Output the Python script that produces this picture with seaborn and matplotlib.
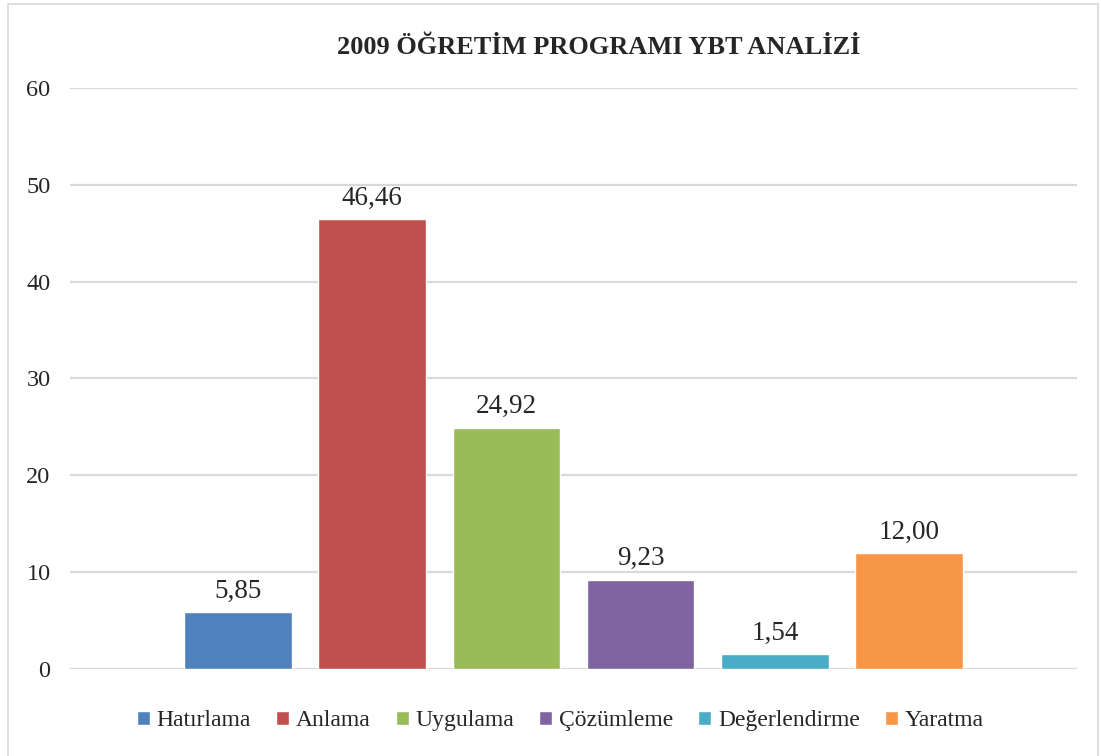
import matplotlib
matplotlib.use("Agg")
import matplotlib.pyplot as plt
import seaborn as sns
import pandas as pd
from matplotlib.patches import Rectangle

# Data
categories = ["Hatırlama", "Anlama", "Uygulama", "Çözümleme", "Değerlendirme", "Yaratma"]
values = [5.85, 46.46, 24.92, 9.23, 1.54, 12.00]
colors = ["#4F81BD", "#C0504D", "#9BBB59", "#8064A2", "#4BACC6", "#F79646"]
title = "2009 ÖĞRETİM PROGRAMI YBT ANALİZİ"

df = pd.DataFrame({"grp": [""] * len(categories), "Kategori": categories, "Yuzde": values})

sns.set_style("white")
plt.rcParams["font.family"] = ["Liberation Serif", "DejaVu Serif"]

fig = plt.figure(figsize=(11.01, 7.56), dpi=100)
ax = fig.add_axes([0.0636, 0.1151, 0.9146, 0.7685])

sns.barplot(data=df, x="grp", y="Yuzde", hue="Kategori", palette=colors,
            width=0.8, gap=0.2, ax=ax, saturation=1, legend=True)

for cont, v in zip(ax.containers, values):
    ax.bar_label(cont, labels=[f"{v:.2f}".replace(".", ",")], padding=6, fontsize=19.5)

ax.set_ylim(0, 60)
ax.set_yticks(range(0, 61, 10))
ax.set_xlim(-0.5, 0.5)
ax.set_xticks([])
ax.set_xlabel("")
ax.set_ylabel("")
ax.yaxis.grid(True, color="#D9D9D9", linewidth=1.6)
ax.set_axisbelow(True)
sns.despine(ax=ax, left=True, bottom=True)
ax.tick_params(axis="y", length=0, pad=14, labelsize=17.5)

handles, labels = ax.get_legend_handles_labels()
ax.get_legend().remove()
fig.legend(handles, labels, loc="center", bbox_to_anchor=(0.509, 0.047), ncol=6,
           frameon=False, fontsize=17, handlelength=0.55, handleheight=0.55,
           handletextpad=0.3, columnspacing=1.05)

fig.text(0.544, 0.937, title, ha="center", va="center", fontsize=19, fontweight="bold")

fig.patches.append(Rectangle((0.007, -0.01), 0.99, 1.005, transform=fig.transFigure,
                             fill=False, edgecolor="#D9D9D9", linewidth=1.2))

fig.savefig("out.png", dpi=100)
